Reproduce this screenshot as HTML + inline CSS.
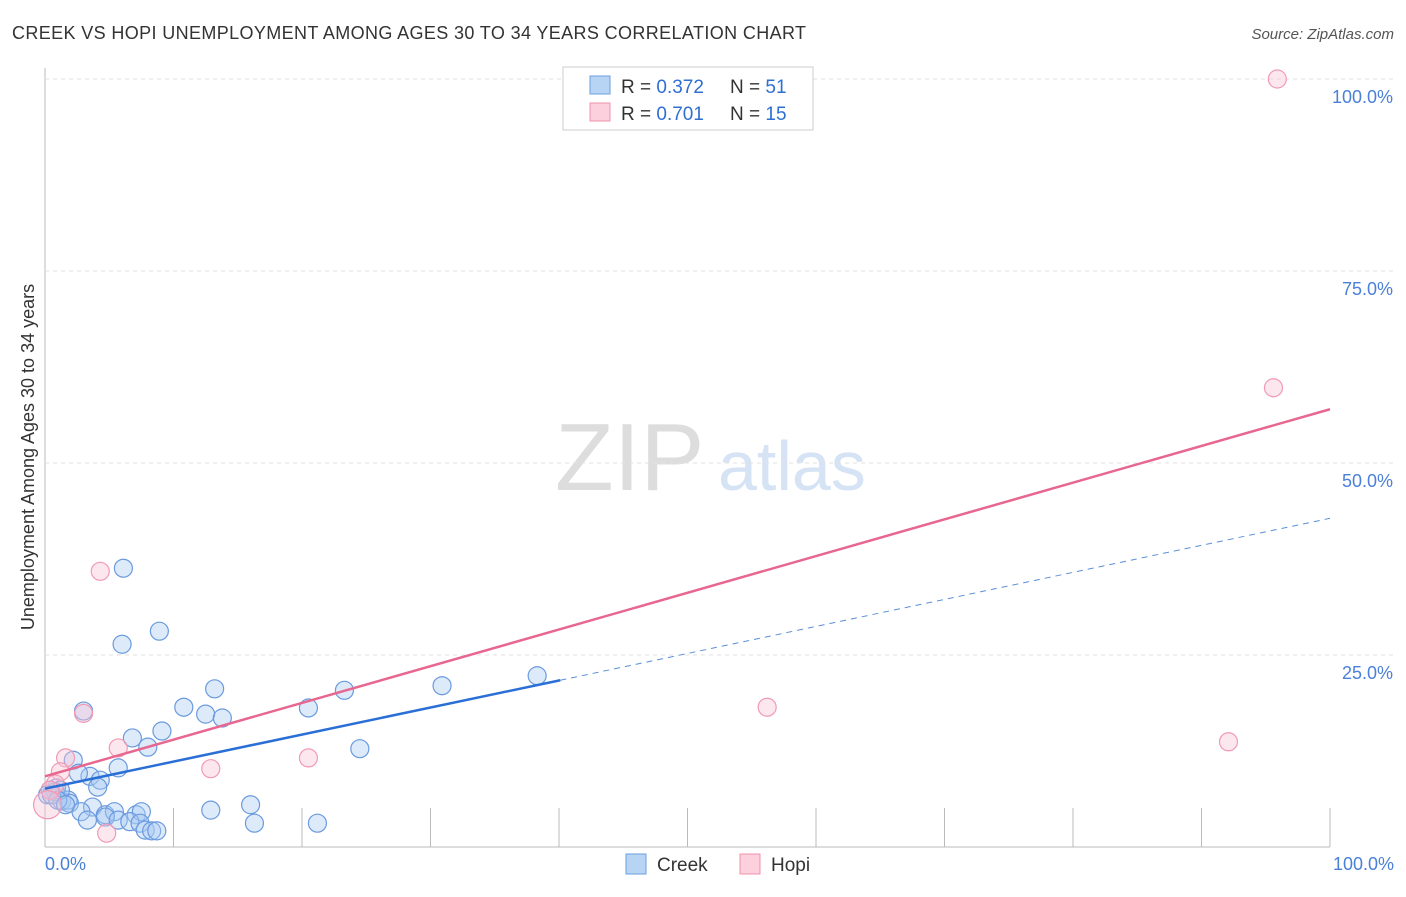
<!DOCTYPE html>
<html><head><meta charset="utf-8"><style>
body{margin:0;background:#fff;font-family:"Liberation Sans",sans-serif}
svg text{font-family:"Liberation Sans",sans-serif}
</style></head><body>
<svg id="c" width="1406" height="892">
<text x="12" y="39" font-size="18" fill="#333" textLength="794">CREEK VS HOPI UNEMPLOYMENT AMONG AGES 30 TO 34 YEARS CORRELATION CHART</text>
<text x="1394" y="39" font-size="15" fill="#555" font-style="italic" text-anchor="end">Source: ZipAtlas.com</text>
<text transform="translate(34,457) rotate(-90)" font-size="18" fill="#333" text-anchor="middle">Unemployment Among Ages 30 to 34 years</text>
<text x="555" y="490" font-size="96" fill="#ddd" font-family="Liberation Serif">ZIP</text>
<text x="718" y="490" font-size="70" fill="#d5e3f5">atlas</text>
<g id="grid"></g><g id="pts"></g><g id="lines"></g>
<g>
<rect x="563" y="67" width="250" height="63" fill="#fff" stroke="#ccc"/>
<rect x="590" y="76" width="20" height="18" fill="#b8d4f5" stroke="#6a9ee0"/>
<rect x="590" y="103" width="20" height="18" fill="#fcd0dc" stroke="#f090ac"/>
<text x="621" y="93" font-size="19" fill="#333">R = <tspan fill="#2e6fd1">0.372</tspan></text>
<text x="730" y="93" font-size="19" fill="#333">N = <tspan fill="#2e6fd1">51</tspan></text>
<text x="621" y="120" font-size="19" fill="#333">R = <tspan fill="#2e6fd1">0.701</tspan></text>
<text x="730" y="120" font-size="19" fill="#333">N = <tspan fill="#2e6fd1">15</tspan></text>
</g>
<g>
<rect x="626" y="854" width="20" height="20" fill="#b8d4f5" stroke="#6a9ee0"/>
<text x="657" y="871" font-size="19" fill="#333">Creek</text>
<rect x="740" y="854" width="20" height="20" fill="#fcd0dc" stroke="#f090ac"/>
<text x="771" y="871" font-size="19" fill="#333">Hopi</text>
</g>
<text x="45" y="870" font-size="18" fill="#4a80d8">0.0%</text>
<text x="1394" y="870" font-size="18" fill="#4a80d8" text-anchor="end">100.0%</text>
</svg>
<script>
const creekX=[6.1,6.0,8.9,3.0,10.8,13.2,12.5,13.8,9.1,6.8,8.0,20.5,23.3,30.9,38.3,24.5,2.2,5.7,3.5,4.3,4.1,2.6,0.9,0.4,1.3,1.8,1.9,3.7,2.8,3.3,4.7,5.4,4.7,5.7,7.1,7.5,6.6,7.4,7.8,8.3,8.7,12.9,16.0,16.3,21.2,0.2,0.8,1.2,0.5,1.0,1.6];
const creekY=[36.3,26.4,28.1,17.7,18.2,20.6,17.3,16.8,15.1,14.2,13.0,18.1,20.4,21.0,22.3,12.8,11.3,10.3,9.2,8.7,7.8,9.6,7.7,7.4,6.0,6.1,5.7,5.2,4.6,3.5,4.2,4.6,3.9,3.5,4.2,4.6,3.3,3.1,2.2,2.1,2.1,4.8,5.5,3.1,3.1,6.8,7.2,7.4,6.8,6.1,5.5];
const hopiX=[95.9,95.6,4.3,3.0,5.7,12.9,20.5,56.2,92.1,1.6,1.2,0.8,0.4,4.8,0.2];
const hopiY=[100,59.8,35.9,17.4,12.9,10.2,11.6,18.2,13.7,11.6,9.8,8.2,7.4,1.8,5.5];
const yTicks=[25,50,75,100];
const yTickLabels=["25.0%","50.0%","75.0%","100.0%"];
const creekFit=[7.6,42.8], hopiFit=[9.2,57.0], creekSolidEnd=40.1;
const X=v=>45+v*12.85, Y=v=>847-v*7.68;
const NS="http://www.w3.org/2000/svg";
function mk(p,t,a){const e=document.createElementNS(NS,t);for(const k in a)e.setAttribute(k,a[k]);p.appendChild(e);return e;}
const g=document.getElementById('grid');
const ax=mk(g,'line',{x1:45,y1:68,x2:45,y2:847,stroke:'#bbb'});


const bx=mk(g,'line',{x1:45,y1:847,x2:1330,y2:847,stroke:'#bbb'});


for(let i=1;i<=10;i++){const t=mk(g,'line',{x1:X(i*10),x2:X(i*10),y1:808,y2:847,stroke:'#bbb'});

}
yTicks.forEach((v,i)=>{const l=mk(g,'line',{x1:45,x2:1393,y1:Y(v),y2:Y(v),stroke:'#e2e2e2','stroke-dasharray':'4,4'});


const t=mk(g,'text',{x:1393,y:Y(v)+24,'font-size':18,fill:'#4a80d8','text-anchor':'end'});t.textContent=yTickLabels[i];

});
const p=document.getElementById('pts');
creekX.forEach((x,i)=>{const c=mk(p,'circle',{cx:X(x),cy:Y(creekY[i]),r:9,fill:'rgba(170,202,242,0.4)',stroke:'#6a9ade','stroke-width':1.2});

});
hopiX.forEach((x,i)=>{const c=mk(p,'circle',{cx:X(x),cy:Y(hopiY[i]),r:i==14?14:9,fill:'rgba(250,195,212,0.4)',stroke:'#f09ab4','stroke-width':1.2});

});
const L=document.getElementById('lines');
const f=(fit,x)=>fit[0]+(fit[1]-fit[0])*x/100;
let a=mk(L,'line',{x1:X(0),y1:Y(f(creekFit,0)),x2:X(creekSolidEnd),y2:Y(f(creekFit,creekSolidEnd)),stroke:'#2a6fd6','stroke-width':2.5});


a=mk(L,'line',{x1:X(creekSolidEnd),y1:Y(f(creekFit,creekSolidEnd)),x2:X(100),y2:Y(f(creekFit,100)),stroke:'#5b8fd8','stroke-width':1,'stroke-dasharray':'6,5'});


a=mk(L,'line',{x1:X(0),y1:Y(f(hopiFit,0)),x2:X(100),y2:Y(f(hopiFit,100)),stroke:'#e86790','stroke-width':2.5});


</script>
</body></html>
